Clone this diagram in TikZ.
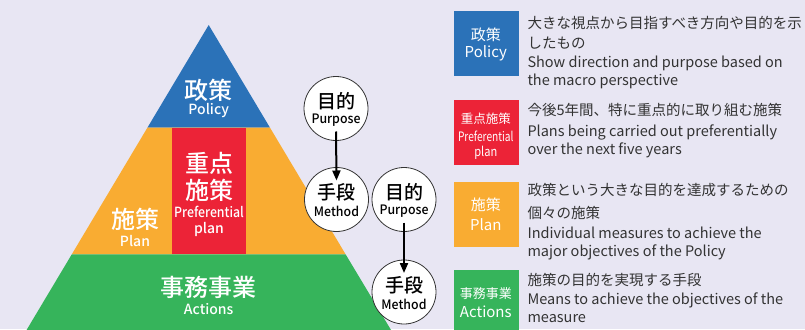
\documentclass[tikz,border=0pt]{standalone}
\usepackage{fontspec}
\usepackage{graphicx}
\setmainfont{Noto Sans CJK JP}
\newfontfamily\med{Noto Sans CJK JP Medium}
\usetikzlibrary{arrows.meta}
\definecolor{bgc}{HTML}{E8E6F3}
\definecolor{cblue}{HTML}{2B72B8}
\definecolor{cred}{HTML}{EC2337}
\definecolor{corange}{HTML}{F9AC32}
\definecolor{cgreen}{HTML}{36B45B}
\definecolor{ctext}{HTML}{333333}
\tikzset{
  wt/.style={text=white, inner sep=0pt, anchor=center},
  big/.style={wt, font=\med\fontsize{24}{24}\selectfont},
  sub/.style={wt, font=\med\fontsize{14}{14}\selectfont},
  circ/.style={circle, draw=black!80, line width=0.8pt, fill=white, minimum size=64pt, inner sep=0pt},
  arr/.style={-{Triangle[length=10pt,width=8pt]}, line width=2pt, black},
  desc/.style={text=ctext, inner sep=0pt, anchor=west, font=\fontsize{14.5}{16}\selectfont, text height=10.5pt, text depth=3pt},
  lbox/.style={minimum width=65pt, minimum height=65pt, inner sep=0pt, anchor=north west},
}
\begin{document}
\begin{tikzpicture}[x=1pt,y=-1pt]
\useasboundingbox (0,0) rectangle (805,329);
\fill[bgc] (0,0) rectangle (805,329);
% pyramid
\begin{scope}
\clip (0,0) rectangle (805,329);
\fill[cblue] (208.7,25) -- (270,127.7) -- (147.4,127.7) -- cycle;
\fill[corange] (147.4,127.7) -- (270,127.7) -- (345.6,254.3) -- (71.8,254.3) -- cycle;
\fill[cgreen] (71.8,254.3) -- (345.6,254.3) -- (400,345) -- (17.6,345) -- cycle;
\fill[cred] (172.3,127.7) rectangle (245.7,254.3);
\end{scope}
% pyramid texts
\node[big] (tpol) at (208.7,90) {政策};
\node[sub] (tpolE) at (208.7,111) {Policy};
\node[big] (tju1) at (209,163) {重点};
\node[big] (tju2) at (209,190) {施策};
\node[sub] (tjuE1) at (209,212) {\scalebox{0.88}[1]{Preferential}};
\node[sub] (tjuE2) at (209,229) {plan};
\node[big] (tpl) at (135,219) {施策};
\node[sub] (tplE) at (135,241) {Plan};
\node[big] (tac) at (208.7,287) {事務事業};
\node[sub] (tacE) at (208.7,309) {Actions};
% circles
\node[circ] (p1) at (336,108.5) {};
\node[circ] (m1) at (336.5,199.5) {};
\node[circ] (p2) at (404,199.5) {};
\node[circ] (m2) at (404,292) {};
\foreach \n/\a/\b in {p1/目的/Purpose, m1/手段/Method, p2/目的/Purpose, m2/手段/Method}{
  \node[inner sep=0pt, font=\med\fontsize{19}{19}\selectfont] (\n j) at ([yshift=7pt]\n.center) {\a};
  \node[inner sep=0pt, font=\med\fontsize{13}{13}\selectfont] (\n e) at ([yshift=-12pt]\n.center) {\scalebox{0.95}[1]{\b}};
}
\draw[arr] ([yshift=-23pt]p1.center) -- ([yshift=19pt]m1.center);
\draw[arr] ([yshift=-23pt]p2.center) -- ([yshift=19pt]m2.center);
% legend boxes
\node[lbox, fill=cblue] (b1) at (453.3,11) {};
\node[lbox, fill=cred] (b2) at (453.3,99.5) {};
\node[lbox, fill=corange] (b3) at (453.3,181.7) {};
\node[lbox, fill=cgreen] (b4) at (453.3,270) {};
\node[wt, font=\fontsize{15}{15}\selectfont] (b1j) at (485.8,35) {政策};
\node[wt, font=\fontsize{15}{15}\selectfont] (b1e) at (485.8,53.5) {Policy};
\node[wt, font=\fontsize{12.5}{12.5}\selectfont] (b2j) at (485.8,118.3) {重点施策};
\node[wt, font=\fontsize{13}{13}\selectfont] (b2e1) at (485.8,136.7) {\scalebox{0.78}[1]{Preferential}};
\node[wt, font=\fontsize{13}{13}\selectfont] (b2e2) at (485.8,153.3) {\scalebox{0.85}[1]{plan}};
\node[wt, font=\fontsize{15}{15}\selectfont] (b3j) at (485.8,205) {施策};
\node[wt, font=\fontsize{15}{15}\selectfont] (b3e) at (485.8,225) {Plan};
\node[wt, font=\fontsize{13}{13}\selectfont] (b4j) at (485.8,293.3) {事務事業};
\node[wt, font=\fontsize{15}{15}\selectfont] (b4e) at (485.8,311.7) {Actions};
% descriptions
\node[desc] (d11) at (527.3,25) {大きな視点から目指すべき方向や目的を示};
\node[desc] (d12) at (527.3,44.3) {したもの};
\node[desc] (d13) at (527.3,63.3) {Show direction and purpose based on};
\node[desc] (d14) at (527.3,81.7) {the macro perspective};
\node[desc] (d21) at (527.3,111.7) {今後5年間、特に重点的に取り組む施策};
\node[desc] (d22) at (527.3,132.7) {Plans being carried out preferentially};
\node[desc] (d23) at (527.3,150.7) {over the next five years};
\node[desc] (d31) at (527.3,191.7) {政策という大きな目的を達成するための};
\node[desc] (d32) at (527.3,214.3) {個々の施策};
\node[desc] (d33) at (527.3,234.3) {Individual measures to achieve the};
\node[desc] (d34) at (527.3,252.7) {major objectives of the Policy};
\node[desc] (d41) at (527.3,281.7) {施策の目的を実現する手段};
\node[desc] (d42) at (527.3,301) {Means to achieve the objectives of the};
\node[desc] (d43) at (527.3,319) {measure};
\end{tikzpicture}
\end{document}
